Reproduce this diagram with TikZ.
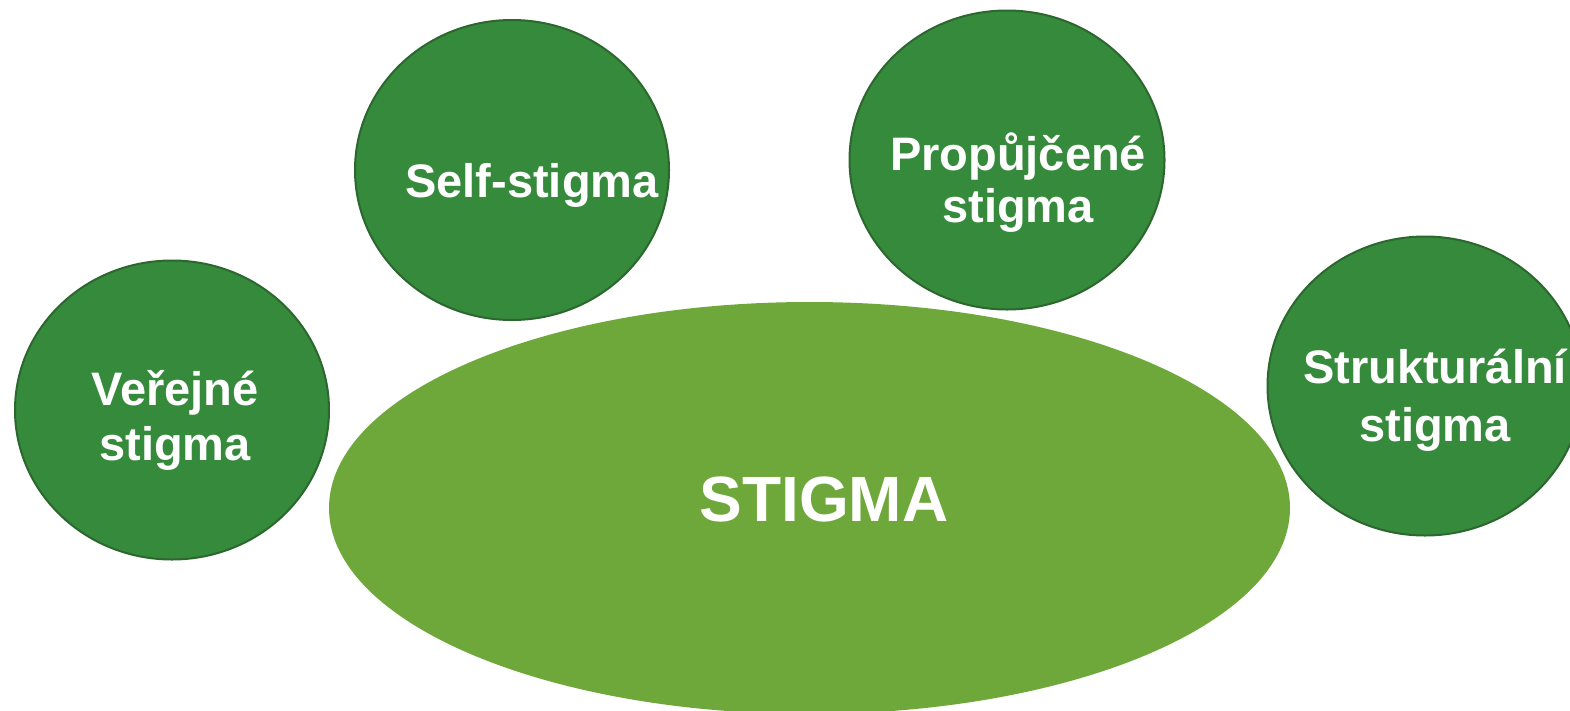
\documentclass[tikz,border=0pt]{standalone}
\usepackage{fontspec}
\setmainfont{Liberation Sans}
\usetikzlibrary{shapes.geometric}
\definecolor{darkgr}{HTML}{368A3B}
\definecolor{darkgrline}{HTML}{2B672E}
\definecolor{lightgr}{HTML}{6FA83A}
\begin{document}
\begin{tikzpicture}[x=1pt,y=-1pt,
  bubble/.style={ellipse,draw=darkgrline,line width=2pt,fill=darkgr,inner sep=0pt},
  lbl/.style={anchor=base,text=white,font=\fontsize{47}{55}\selectfont\bfseries,inner sep=0pt},
  biglbl/.style={anchor=base,text=white,font=\fontsize{64}{70}\selectfont\bfseries,inner sep=0pt}]
\useasboundingbox (0,0) rectangle (1570,710);
\clip (0,0) rectangle (1570,710);
\node[ellipse,fill=lightgr,minimum width=961pt,minimum height=412pt,inner sep=0pt] (main) at (809.5,508) {};
\node[bubble,minimum width=314pt,minimum height=299pt] (pub) at (172,410) {};
\node[bubble,minimum width=314pt,minimum height=300pt] (self) at (512,170) {};
\node[bubble,minimum width=315pt,minimum height=299pt] (borr) at (1007,160) {};
\node[bubble,minimum width=315pt,minimum height=299pt] (str) at (1425,386) {};
\node[biglbl] (tmain) at (824,521) {STIGMA};
\node[lbl] (tpub1) at (175,405) {Veřejné};
\node[lbl] (tpub2) at (175,460) {stigma};
\node[lbl] (tself) at (532,197) {Self-stigma};
\node[lbl] (tborr1) at (1018,170) {Propůjčené};
\node[lbl] (tborr2) at (1018,222) {stigma};
\node[lbl] (tstr1) at (1435,383) {Strukturální};
\node[lbl] (tstr2) at (1435,441) {stigma};
\end{tikzpicture}
\end{document}
